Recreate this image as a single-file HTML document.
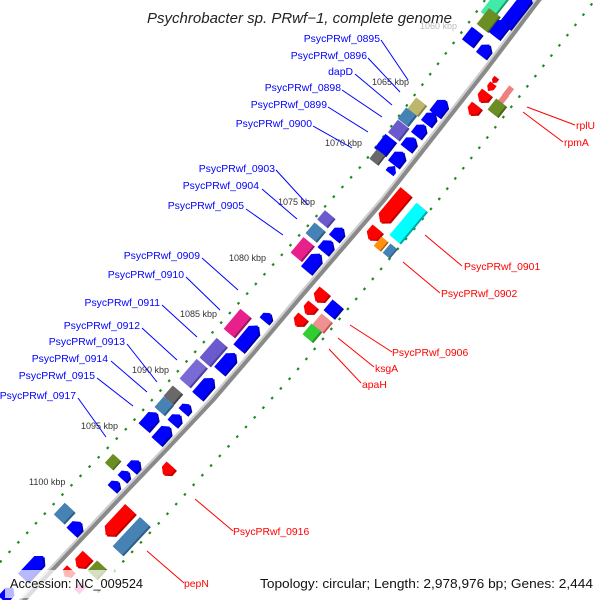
<!DOCTYPE html>
<html><head><meta charset="utf-8"><style>
html,body{margin:0;padding:0;background:#fff;}
svg{display:block;}
text{font-family:"Liberation Sans",Arial,sans-serif;}
</style></head><body>
<svg width="600" height="600" viewBox="0 0 600 600" xmlns="http://www.w3.org/2000/svg">
<!-- dotted tracks -->
<g fill="none" stroke="#1f8a1f" stroke-width="2.2" stroke-dasharray="2.5 10.5">
<polyline points="485,0 467,25 363,164 237,305 127,428 63,494 2,560 -8,571"/>
<polyline points="600,-7 591,5 440,198 293,375 160,522 118,567 92,600"/>
</g>
<!-- backbone -->
<polyline points="546,-10 538,0 485,70 434,135 383,200 340,250 297,300 255,350 212,400 165,450 117,500 70,550 23,600 14,610" fill="none" stroke="#8a8a8a" stroke-width="6" stroke-linejoin="round"/>
<polyline transform="translate(-1.6,-1.2)" points="546,-10 538,0 485,70 434,135 383,200 340,250 297,300 255,350 212,400 165,450 117,500 70,550 23,600 14,610" fill="none" stroke="#d0d0d0" stroke-width="2" stroke-linejoin="round"/>

<g>
<g transform="translate(495,4) rotate(-52)"><rect x="-15" y="-4.5" width="30" height="13" fill="#1a9a70"/><rect x="-15" y="-6.5" width="30" height="13" fill="#40eaa8"/></g>
<g transform="translate(488,20) rotate(-52)"><rect x="-10" y="-4.5" width="20" height="13" fill="#4a6518"/><rect x="-10" y="-6.5" width="20" height="13" fill="#6b8e23"/></g>
<g transform="translate(517,10) rotate(-52)"><polygon transform="translate(0,2)" points="-20,-6.5 15,-6.5 20,0 15,6.5 -20,6.5" fill="#0000a8"/><polygon points="-20,-6.5 15,-6.5 20,0 15,6.5 -20,6.5" fill="#0000ff"/></g>
<g transform="translate(472,37) rotate(-52)"><rect x="-8" y="-4.5" width="16" height="13" fill="#0000a8"/><rect x="-8" y="-6.5" width="16" height="13" fill="#0000ff"/></g>
<g transform="translate(500,28) rotate(-52)"><polygon transform="translate(0,2)" points="-10,-6.5 5,-6.5 10,0 5,6.5 -10,6.5" fill="#0000a8"/><polygon points="-10,-6.5 5,-6.5 10,0 5,6.5 -10,6.5" fill="#0000ff"/></g>
<g transform="translate(485,50) rotate(-52)"><polygon transform="translate(0,2)" points="-7,-6 2,-6 7,0 2,6 -7,6" fill="#0000a8"/><polygon points="-7,-6 2,-6 7,0 2,6 -7,6" fill="#0000ff"/></g>
<g transform="translate(417,107) rotate(-52)"><rect x="-7" y="-4.5" width="14" height="12" fill="#8a8548"/><rect x="-7" y="-6.5" width="14" height="12" fill="#bdb76b"/></g>
<g transform="translate(440,107) rotate(-52)"><polygon transform="translate(0,2)" points="-9,-6.5 4,-6.5 9,0 4,6.5 -9,6.5" fill="#0000a8"/><polygon points="-9,-6.5 4,-6.5 9,0 4,6.5 -9,6.5" fill="#0000ff"/></g>
<g transform="translate(407,117) rotate(-52)"><rect x="-7" y="-4.5" width="14" height="12" fill="#2f5e85"/><rect x="-7" y="-6.5" width="14" height="12" fill="#4682b4"/></g>
<g transform="translate(430,118) rotate(-52)"><polygon transform="translate(0,2)" points="-7,-6 2,-6 7,0 2,6 -7,6" fill="#0000a8"/><polygon points="-7,-6 2,-6 7,0 2,6 -7,6" fill="#0000ff"/></g>
<g transform="translate(398,130) rotate(-52)"><rect x="-8" y="-4.5" width="16" height="13" fill="#4a3e9a"/><rect x="-8" y="-6.5" width="16" height="13" fill="#6a5acd"/></g>
<g transform="translate(420,130) rotate(-52)"><polygon transform="translate(0,2)" points="-7,-6 2,-6 7,0 2,6 -7,6" fill="#0000a8"/><polygon points="-7,-6 2,-6 7,0 2,6 -7,6" fill="#0000ff"/></g>
<g transform="translate(385,145) rotate(-52)"><rect x="-9" y="-4.5" width="18" height="13" fill="#0000a8"/><rect x="-9" y="-6.5" width="18" height="13" fill="#0000ff"/></g>
<g transform="translate(410,143) rotate(-52)"><polygon transform="translate(0,2)" points="-7,-6.5 2,-6.5 7,0 2,6.5 -7,6.5" fill="#0000a8"/><polygon points="-7,-6.5 2,-6.5 7,0 2,6.5 -7,6.5" fill="#0000ff"/></g>
<g transform="translate(377,157) rotate(-52)"><rect x="-6" y="-3.5" width="12" height="10" fill="#444"/><rect x="-6" y="-5" width="12" height="10" fill="#696969"/></g>
<g transform="translate(398,158) rotate(-52)"><polygon transform="translate(0,2)" points="-8,-6.5 3,-6.5 8,0 3,6.5 -8,6.5" fill="#0000a8"/><polygon points="-8,-6.5 3,-6.5 8,0 3,6.5 -8,6.5" fill="#0000ff"/></g>
<g transform="translate(392,170) rotate(-52)"><polygon points="-4,-5 0,-5 5,0 0,5 -4,5" fill="#0000ff"/></g>
<g transform="translate(495,80) rotate(-52)"><polygon points="3,-3 -1,-3 -4,0 -1,3 3,3" fill="#e00"/></g>
<g transform="translate(491,87) rotate(-52)"><polygon points="4,-4 -1,-4 -5,0 -1,4 4,4" fill="#f00"/></g>
<g transform="translate(508,92) rotate(-52)"><rect x="-6" y="-3" width="12" height="6" fill="#f08080"/></g>
<g transform="translate(503,99) rotate(-52)"><rect x="-6" y="-3" width="12" height="6" fill="#f08080"/></g>
<g transform="translate(483,97) rotate(-52)"><polygon transform="translate(0,2)" points="6,-6 -1,-6 -6,0 -1,6 6,6" fill="#b00"/><polygon points="6,-6 -1,-6 -6,0 -1,6 6,6" fill="#f00"/></g>
<g transform="translate(473,110) rotate(-52)"><polygon transform="translate(0,2)" points="6,-6 -1,-6 -6,0 -1,6 6,6" fill="#b00"/><polygon points="6,-6 -1,-6 -6,0 -1,6 6,6" fill="#f00"/></g>
<g transform="translate(497,108) rotate(-52)"><rect x="-7" y="-4.5" width="14" height="12" fill="#4a6518"/><rect x="-7" y="-6.5" width="14" height="12" fill="#6b8e23"/></g>

<g transform="translate(326,219) rotate(-50)"><rect x="-6" y="-4.5" width="12" height="12" fill="#4a3e9a"/><rect x="-6" y="-6.5" width="12" height="12" fill="#6a5acd"/></g>
<g transform="translate(338,233) rotate(-50)"><polygon transform="translate(0,2)" points="-7,-6 2,-6 7,0 2,6 -7,6" fill="#0000a8"/><polygon points="-7,-6 2,-6 7,0 2,6 -7,6" fill="#0000ff"/></g>
<g transform="translate(315,232) rotate(-50)"><rect x="-7" y="-4.5" width="14" height="13" fill="#2f5e85"/><rect x="-7" y="-6.5" width="14" height="13" fill="#4682b4"/></g>
<g transform="translate(327,246) rotate(-50)"><polygon transform="translate(0,2)" points="-7,-6.5 2,-6.5 7,0 2,6.5 -7,6.5" fill="#0000a8"/><polygon points="-7,-6.5 2,-6.5 7,0 2,6.5 -7,6.5" fill="#0000ff"/></g>
<g transform="translate(302,249) rotate(-50)"><rect x="-10" y="-4.5" width="20" height="13" fill="#a01060"/><rect x="-10" y="-6.5" width="20" height="13" fill="#e8208c"/></g>
<g transform="translate(313,262) rotate(-50)"><polygon transform="translate(0,2)" points="-11,-6.5 5,-6.5 11,0 5,6.5 -11,6.5" fill="#0000a8"/><polygon points="-11,-6.5 5,-6.5 11,0 5,6.5 -11,6.5" fill="#0000ff"/></g>
<g transform="translate(393,207) rotate(-50)"><polygon transform="translate(0,2)" points="20,-7 -14,-7 -20,0 -14,7 20,7" fill="#b00"/><polygon points="20,-7 -14,-7 -20,0 -14,7 20,7" fill="#f00"/></g>
<g transform="translate(408,223) rotate(-50)"><rect x="-21" y="-4.5" width="42" height="13" fill="#00a8a8"/><rect x="-21" y="-6.5" width="42" height="13" fill="#00ffff"/></g>
<g transform="translate(373,234) rotate(-50)"><polygon transform="translate(0,2)" points="7,-6.5 -2,-6.5 -7,0 -2,6.5 7,6.5" fill="#b00"/><polygon points="7,-6.5 -2,-6.5 -7,0 -2,6.5 7,6.5" fill="#f00"/></g>
<g transform="translate(381,244) rotate(-50)"><rect x="-6" y="-3" width="12" height="8" fill="#b06000"/><rect x="-6" y="-4.5" width="12" height="8" fill="#ff9010"/></g>
<g transform="translate(390,251) rotate(-50)"><rect x="-6" y="-3" width="12" height="8" fill="#2f5e85"/><rect x="-6" y="-4.5" width="12" height="8" fill="#4682b4"/></g>
<g transform="translate(320,296) rotate(-50)"><polygon transform="translate(0,2)" points="7,-6.5 -2,-6.5 -7,0 -2,6.5 7,6.5" fill="#b00"/><polygon points="7,-6.5 -2,-6.5 -7,0 -2,6.5 7,6.5" fill="#f00"/></g>
<g transform="translate(333,309) rotate(-50)"><rect x="-7" y="-4.5" width="14" height="13" fill="#0000a8"/><rect x="-7" y="-6.5" width="14" height="13" fill="#0000ff"/></g>
<g transform="translate(309,309) rotate(-50)"><polygon transform="translate(0,2)" points="6,-6 -1,-6 -6,0 -1,6 6,6" fill="#b00"/><polygon points="6,-6 -1,-6 -6,0 -1,6 6,6" fill="#f00"/></g>
<g transform="translate(322,323) rotate(-50)"><rect x="-7" y="-4.5" width="14" height="13" fill="#c05a5a"/><rect x="-7" y="-6.5" width="14" height="13" fill="#f09090"/></g>
<g transform="translate(299,321) rotate(-50)"><polygon transform="translate(0,2)" points="6,-6 -1,-6 -6,0 -1,6 6,6" fill="#b00"/><polygon points="6,-6 -1,-6 -6,0 -1,6 6,6" fill="#f00"/></g>
<g transform="translate(312,333) rotate(-50)"><rect x="-7" y="-4.5" width="14" height="12" fill="#209020"/><rect x="-7" y="-6.5" width="14" height="12" fill="#32cd32"/></g>

<g transform="translate(237,323) rotate(-50)"><rect x="-13" y="-4.5" width="26" height="13" fill="#a01060"/><rect x="-13" y="-6.5" width="26" height="13" fill="#e8208c"/></g>
<g transform="translate(267,317) rotate(-50)"><polygon transform="translate(0,2)" points="-5,-5.5 1,-5.5 5,0 1,5.5 -5,5.5" fill="#0000a8"/><polygon points="-5,-5.5 1,-5.5 5,0 1,5.5 -5,5.5" fill="#0000ff"/></g>
<g transform="translate(248,337) rotate(-50)"><polygon transform="translate(0,2)" points="-15,-6.5 9,-6.5 15,0 9,6.5 -15,6.5" fill="#0000a8"/><polygon points="-15,-6.5 9,-6.5 15,0 9,6.5 -15,6.5" fill="#0000ff"/></g>
<g transform="translate(213,352) rotate(-49)"><rect x="-13" y="-4.5" width="26" height="13" fill="#4a3e9a"/><rect x="-13" y="-6.5" width="26" height="13" fill="#6a5acd"/></g>
<g transform="translate(227,362) rotate(-49)"><polygon transform="translate(0,2)" points="-12,-6.5 6,-6.5 12,0 6,6.5 -12,6.5" fill="#0000a8"/><polygon points="-12,-6.5 6,-6.5 12,0 6,6.5 -12,6.5" fill="#0000ff"/></g>
<g transform="translate(193,373) rotate(-49)"><rect x="-13" y="-4.5" width="26" height="13" fill="#4a3e9a"/><rect x="-13" y="-6.5" width="26" height="13" fill="#7a6ad5"/></g>
<g transform="translate(205,387) rotate(-49)"><polygon transform="translate(0,2)" points="-12,-6.5 6,-6.5 12,0 6,6.5 -12,6.5" fill="#0000a8"/><polygon points="-12,-6.5 6,-6.5 12,0 6,6.5 -12,6.5" fill="#0000ff"/></g>
<g transform="translate(173,395) rotate(-49)"><rect x="-7" y="-4.5" width="14" height="12" fill="#444"/><rect x="-7" y="-6.5" width="14" height="12" fill="#696969"/></g>
<g transform="translate(164,406) rotate(-49)"><rect x="-7" y="-4.5" width="14" height="12" fill="#2f5e85"/><rect x="-7" y="-6.5" width="14" height="12" fill="#4682b4"/></g>
<g transform="translate(186,408) rotate(-49)"><polygon transform="translate(0,2)" points="-5,-5.5 1,-5.5 5,0 1,5.5 -5,5.5" fill="#0000a8"/><polygon points="-5,-5.5 1,-5.5 5,0 1,5.5 -5,5.5" fill="#0000ff"/></g>
<g transform="translate(176,419) rotate(-49)"><polygon transform="translate(0,2)" points="-6,-6 1,-6 6,0 1,6 -6,6" fill="#0000a8"/><polygon points="-6,-6 1,-6 6,0 1,6 -6,6" fill="#0000ff"/></g>
<g transform="translate(150,420) rotate(-49)"><polygon transform="translate(0,2)" points="-10,-6.5 5,-6.5 10,0 5,6.5 -10,6.5" fill="#0000a8"/><polygon points="-10,-6.5 5,-6.5 10,0 5,6.5 -10,6.5" fill="#0000ff"/></g>
<g transform="translate(163,434) rotate(-48)"><polygon transform="translate(0,2)" points="-10,-6.5 5,-6.5 10,0 5,6.5 -10,6.5" fill="#0000a8"/><polygon points="-10,-6.5 5,-6.5 10,0 5,6.5 -10,6.5" fill="#0000ff"/></g>
<g transform="translate(167,470) rotate(-48)"><polygon transform="translate(0,2)" points="6,-6 -1,-6 -6,0 -1,6 6,6" fill="#b00"/><polygon points="6,-6 -1,-6 -6,0 -1,6 6,6" fill="#f00"/></g>
<g transform="translate(113,462) rotate(-48)"><rect x="-6" y="-4" width="12" height="10" fill="#4a6518"/><rect x="-6" y="-5.5" width="12" height="10" fill="#6b8e23"/></g>
<g transform="translate(135,465) rotate(-48)"><polygon transform="translate(0,2)" points="-6,-6 1,-6 6,0 1,6 -6,6" fill="#0000a8"/><polygon points="-6,-6 1,-6 6,0 1,6 -6,6" fill="#0000ff"/></g>
<g transform="translate(125,475) rotate(-48)"><polygon transform="translate(0,2)" points="-5,-5.5 1,-5.5 5,0 1,5.5 -5,5.5" fill="#0000a8"/><polygon points="-5,-5.5 1,-5.5 5,0 1,5.5 -5,5.5" fill="#0000ff"/></g>
<g transform="translate(115,485) rotate(-48)"><polygon transform="translate(0,2)" points="-5,-5.5 1,-5.5 5,0 1,5.5 -5,5.5" fill="#0000a8"/><polygon points="-5,-5.5 1,-5.5 5,0 1,5.5 -5,5.5" fill="#0000ff"/></g>
<g transform="translate(64,513) rotate(-47)"><rect x="-8" y="-4.5" width="16" height="13" fill="#2f5e85"/><rect x="-8" y="-6.5" width="16" height="13" fill="#4682b4"/></g>
<g transform="translate(76,527) rotate(-47)"><polygon transform="translate(0,2)" points="-7,-6.5 2,-6.5 7,0 2,6.5 -7,6.5" fill="#0000a8"/><polygon points="-7,-6.5 2,-6.5 7,0 2,6.5 -7,6.5" fill="#0000ff"/></g>
<g transform="translate(118,522) rotate(-47)"><polygon transform="translate(0,2)" points="18,-7 -12,-7 -18,0 -12,7 18,7" fill="#b00"/><polygon points="18,-7 -12,-7 -18,0 -12,7 18,7" fill="#f00"/></g>
<g transform="translate(131,536) rotate(-47)"><rect x="-20" y="-4.5" width="40" height="13" fill="#2f5e85"/><rect x="-20" y="-6.5" width="40" height="13" fill="#4682b4"/></g>
<g transform="translate(82,561) rotate(-47)"><polygon transform="translate(0,2)" points="8,-6.5 -3,-6.5 -8,0 -3,6.5 8,6.5" fill="#b00"/><polygon points="8,-6.5 -3,-6.5 -8,0 -3,6.5 8,6.5" fill="#f00"/></g>
<g transform="translate(68,573) rotate(-47)"><polygon points="5,-6 -1,-6 -5,0 -1,6 5,6" fill="#f00"/></g>
<g transform="translate(97,570) rotate(-47)"><rect x="-7" y="-4.5" width="14" height="12" fill="#4a6518"/><rect x="-7" y="-6.5" width="14" height="12" fill="#6b8e23"/></g>
<g transform="translate(80,588) rotate(-47)"><rect x="-5" y="-4" width="10" height="8" fill="#ff60c0"/></g>
<g transform="translate(33,567) rotate(-47)"><polygon transform="translate(0,2)" points="-15,-6.5 9,-6.5 15,0 9,6.5 -15,6.5" fill="#0000a8"/><polygon points="-15,-6.5 9,-6.5 15,0 9,6.5 -15,6.5" fill="#0000ff"/></g>
<g transform="translate(8,594) rotate(-47)"><polygon points="-8,-6 3,-6 8,0 3,6 -8,6" fill="#0000ff"/></g>
</g>

<g font-size="9" fill="#333">
<text x="420" y="29" fill="#bbb">1060 kbp</text>
<text x="372" y="85">1065 kbp</text>
<text x="325" y="146">1070 kbp</text>
<text x="278" y="205">1075 kbp</text>
<text x="229" y="261">1080 kbp</text>
<text x="180" y="317">1085 kbp</text>
<text x="132" y="373">1090 kbp</text>
<text x="81" y="429">1095 kbp</text>
<text x="29" y="485">1100 kbp</text>
</g>

<g stroke="#0000ff" stroke-width="1" fill="none">
<line x1="381" y1="40" x2="408" y2="80"/>
<line x1="368" y1="58" x2="400" y2="92"/>
<line x1="355" y1="74" x2="392" y2="105"/>
<line x1="342" y1="90" x2="382" y2="117"/>
<line x1="328" y1="107" x2="368" y2="132"/>
<line x1="313" y1="126" x2="352" y2="148"/>
<line x1="276" y1="170" x2="308" y2="205"/>
<line x1="262" y1="189" x2="297" y2="219"/>
<line x1="246" y1="209" x2="283" y2="235"/>
<line x1="202" y1="258" x2="238" y2="290"/>
<line x1="186" y1="277" x2="220" y2="310"/>
<line x1="162" y1="305" x2="197" y2="337"/>
<line x1="142" y1="328" x2="177" y2="360"/>
<line x1="127" y1="344" x2="157" y2="382"/>
<line x1="111" y1="361" x2="147" y2="392"/>
<line x1="97" y1="378" x2="133" y2="406"/>
<line x1="78" y1="398" x2="106" y2="437"/>
</g>
<g font-size="10.4" fill="#0000ff" text-anchor="end">
<text x="380" y="42">PsycPRwf_0895</text>
<text x="367" y="59">PsycPRwf_0896</text>
<text x="353" y="75">dapD</text>
<text x="341" y="91">PsycPRwf_0898</text>
<text x="327" y="108">PsycPRwf_0899</text>
<text x="312" y="127">PsycPRwf_0900</text>
<text x="275" y="172">PsycPRwf_0903</text>
<text x="259" y="189">PsycPRwf_0904</text>
<text x="244" y="209">PsycPRwf_0905</text>
<text x="200" y="259">PsycPRwf_0909</text>
<text x="184" y="278">PsycPRwf_0910</text>
<text x="160" y="306">PsycPRwf_0911</text>
<text x="140" y="329">PsycPRwf_0912</text>
<text x="125" y="345">PsycPRwf_0913</text>
<text x="108" y="362">PsycPRwf_0914</text>
<text x="95" y="379">PsycPRwf_0915</text>
<text x="76" y="399">PsycPRwf_0917</text>
</g>

<g stroke="#ff0000" stroke-width="1" fill="none">
<line x1="527" y1="107" x2="575" y2="125"/>
<line x1="523" y1="112" x2="563" y2="142"/>
<line x1="425" y1="235" x2="462" y2="266"/>
<line x1="403" y1="262" x2="440" y2="293"/>
<line x1="350" y1="325" x2="392" y2="352"/>
<line x1="338" y1="338" x2="374" y2="367"/>
<line x1="329" y1="349" x2="361" y2="383"/>
<line x1="195" y1="499" x2="233" y2="531"/>
<line x1="147" y1="551" x2="184" y2="583"/>
</g>
<g font-size="10.4" fill="#ff0000">
<text x="576" y="129">rplU</text>
<text x="564" y="146">rpmA</text>
<text x="464" y="270">PsycPRwf_0901</text>
<text x="441" y="297">PsycPRwf_0902</text>
<text x="392" y="356">PsycPRwf_0906</text>
<text x="375" y="372">ksgA</text>
<text x="362" y="388">apaH</text>
<text x="233" y="535">PsycPRwf_0916</text>
<text x="184" y="587">pepN</text>
</g>

<text x="147" y="23" font-size="14.5" font-style="italic" fill="#222" textLength="305" lengthAdjust="spacingAndGlyphs">Psychrobacter sp. PRwf−1, complete genome</text>

<rect x="5" y="570" width="143" height="28" fill="#fff" fill-opacity="0.72"/>
<text x="10" y="588" font-size="13" fill="#111" textLength="133" lengthAdjust="spacingAndGlyphs">Accession: NC_009524</text>
<rect x="256" y="572" width="340" height="24" fill="#fff" fill-opacity="0.72"/>
<text x="260" y="588" font-size="13" fill="#111" textLength="333" lengthAdjust="spacingAndGlyphs">Topology: circular; Length: 2,978,976 bp; Genes: 2,444</text>
</svg>
</body></html>
